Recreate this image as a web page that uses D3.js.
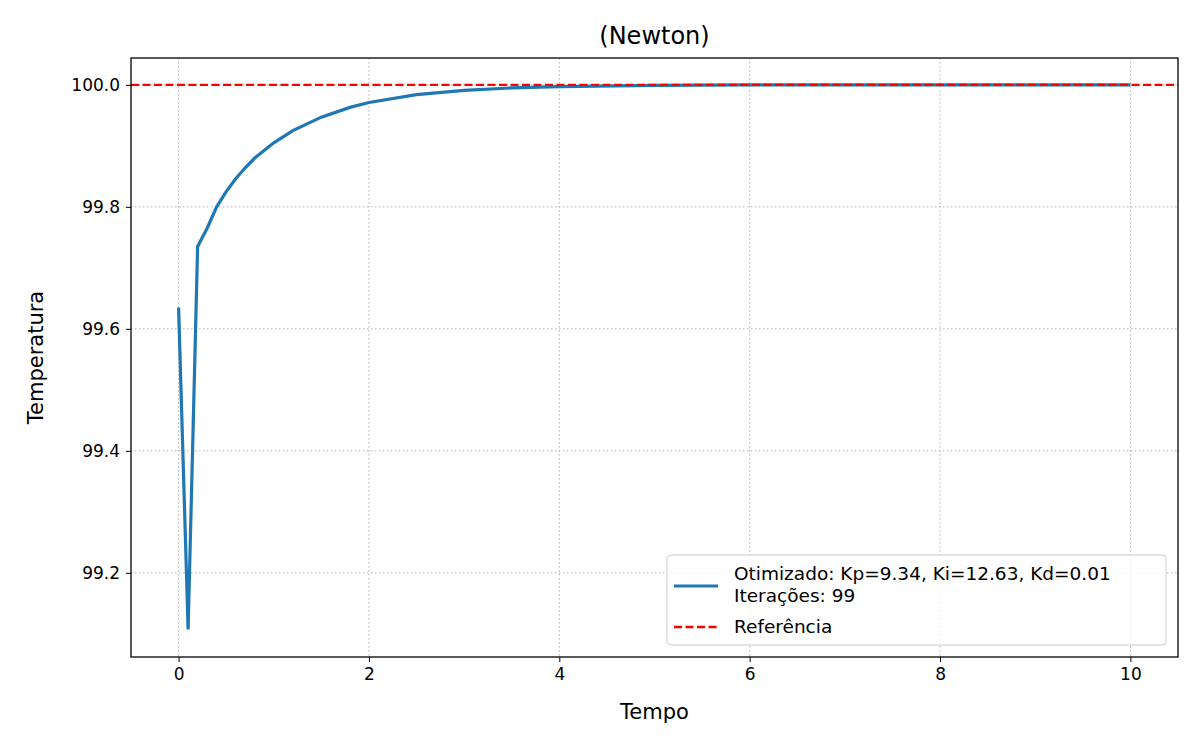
<!DOCTYPE html>
<html><head><meta charset="utf-8">
<script src="https://cdn.jsdelivr.net/npm/d3@7"></script>
<style>body{margin:0;background:#fff}svg{font-family:"DejaVu Sans",sans-serif}</style>
</head><body><div id="chart"></div>
<script>
// time values and temperature
const tempo = [0, 0.1, 0.2, 0.3, 0.4, 0.5, 0.6, 0.7, 0.8, 1.0, 1.2, 1.5, 1.8, 2.0, 2.5, 3.0, 3.5, 4.0, 5.0, 6.0, 8.0, 10.0];
const temperatura = [99.635, 99.107, 99.735, 99.765, 99.800, 99.825, 99.846, 99.864, 99.880, 99.905, 99.925, 99.947, 99.963, 99.971, 99.984, 99.991, 99.995, 99.997, 99.999, 100.0, 100.0, 100.0];
const referencia = 100;
const xTicks = [0, 2, 4, 6, 8, 10];
const yTicks = [99.2, 99.4, 99.6, 99.8, 100.0];

const W = 1200, H = 750;
const m = { left: 131, right: 1178, top: 58, bottom: 657 };

const svg = d3.select("#chart").append("svg").attr("width", W).attr("height", H);

const x = d3.scaleLinear().domain([-0.5, 10.5]).range([m.left, m.right]);
const y = d3.scaleLinear().domain([99.062, 100.044]).range([m.bottom, m.top]);

// grid
const grid = svg.append("g").attr("stroke", "#b0b0b0").attr("stroke-width", 1)
  .attr("stroke-dasharray", "1.5,2.5");
xTicks.forEach(t => grid.append("line").attr("x1", x(t)).attr("x2", x(t)).attr("y1", m.top).attr("y2", m.bottom));
yTicks.forEach(t => grid.append("line").attr("x1", m.left).attr("x2", m.right).attr("y1", y(t)).attr("y2", y(t)));

// axes
const ax = svg.append("g").attr("transform", `translate(0,${m.bottom})`)
  .call(d3.axisBottom(x).tickValues(xTicks).tickFormat(d3.format("d")).tickSize(5).tickPadding(6));
const ay = svg.append("g").attr("transform", `translate(${m.left},0)`)
  .call(d3.axisLeft(y).tickValues(yTicks).tickFormat(d3.format(".1f")).tickSize(5).tickPadding(6));
[ax, ay].forEach(a => {
  a.select(".domain").remove();
  a.selectAll("text").attr("font-size", 17).attr("fill", "#000").attr("font-family", "DejaVu Sans");
  a.selectAll("line").attr("stroke", "#000");
});

// series
svg.append("path").datum(tempo.map((t, i) => [t, temperatura[i]]))
  .attr("fill", "none").attr("stroke", "#1f77b4").attr("stroke-width", 3.2)
  .attr("d", d3.line().x(d => x(d[0])).y(d => y(d[1])));

svg.append("line").attr("x1", m.left).attr("x2", m.right)
  .attr("y1", y(referencia)).attr("y2", y(referencia))
  .attr("stroke", "red").attr("stroke-width", 2.4).attr("stroke-dasharray", "8,3.5");

// frame
svg.append("rect").attr("x", m.left).attr("y", m.top).attr("width", m.right - m.left)
  .attr("height", m.bottom - m.top).attr("fill", "none").attr("stroke", "#000").attr("stroke-width", 1.3);

// labels
svg.append("text").attr("x", (m.left + m.right) / 2).attr("y", 44).attr("text-anchor", "middle")
  .attr("font-size", 24).text("(Newton)");
svg.append("text").attr("x", (m.left + m.right) / 2).attr("y", 719).attr("text-anchor", "middle")
  .attr("font-size", 21).text("Tempo");
svg.append("text").attr("transform", `translate(43,${(m.top + m.bottom) / 2}) rotate(-90)`)
  .attr("text-anchor", "middle").attr("font-size", 21).text("Temperatura");

// legend
const lg = svg.append("g");
lg.append("rect").attr("x", 667).attr("y", 555).attr("width", 499).attr("height", 90).attr("rx", 4)
  .attr("fill", "#fff").attr("fill-opacity", 0.8).attr("stroke", "#ccc");
lg.append("line").attr("x1", 674).attr("x2", 718).attr("y1", 586).attr("y2", 586)
  .attr("stroke", "#1f77b4").attr("stroke-width", 3.2);
lg.append("text").attr("x", 734).attr("y", 580).attr("font-size", 18.5).text("Otimizado: Kp=9.34, Ki=12.63, Kd=0.01");
lg.append("text").attr("x", 734).attr("y", 602).attr("font-size", 18.5).text("Iterações: 99");
lg.append("line").attr("x1", 674).attr("x2", 718).attr("y1", 627).attr("y2", 627)
  .attr("stroke", "red").attr("stroke-width", 2.4).attr("stroke-dasharray", "8,3.5");
lg.append("text").attr("x", 734).attr("y", 633).attr("font-size", 18.5).text("Referência");
</script></body></html>
